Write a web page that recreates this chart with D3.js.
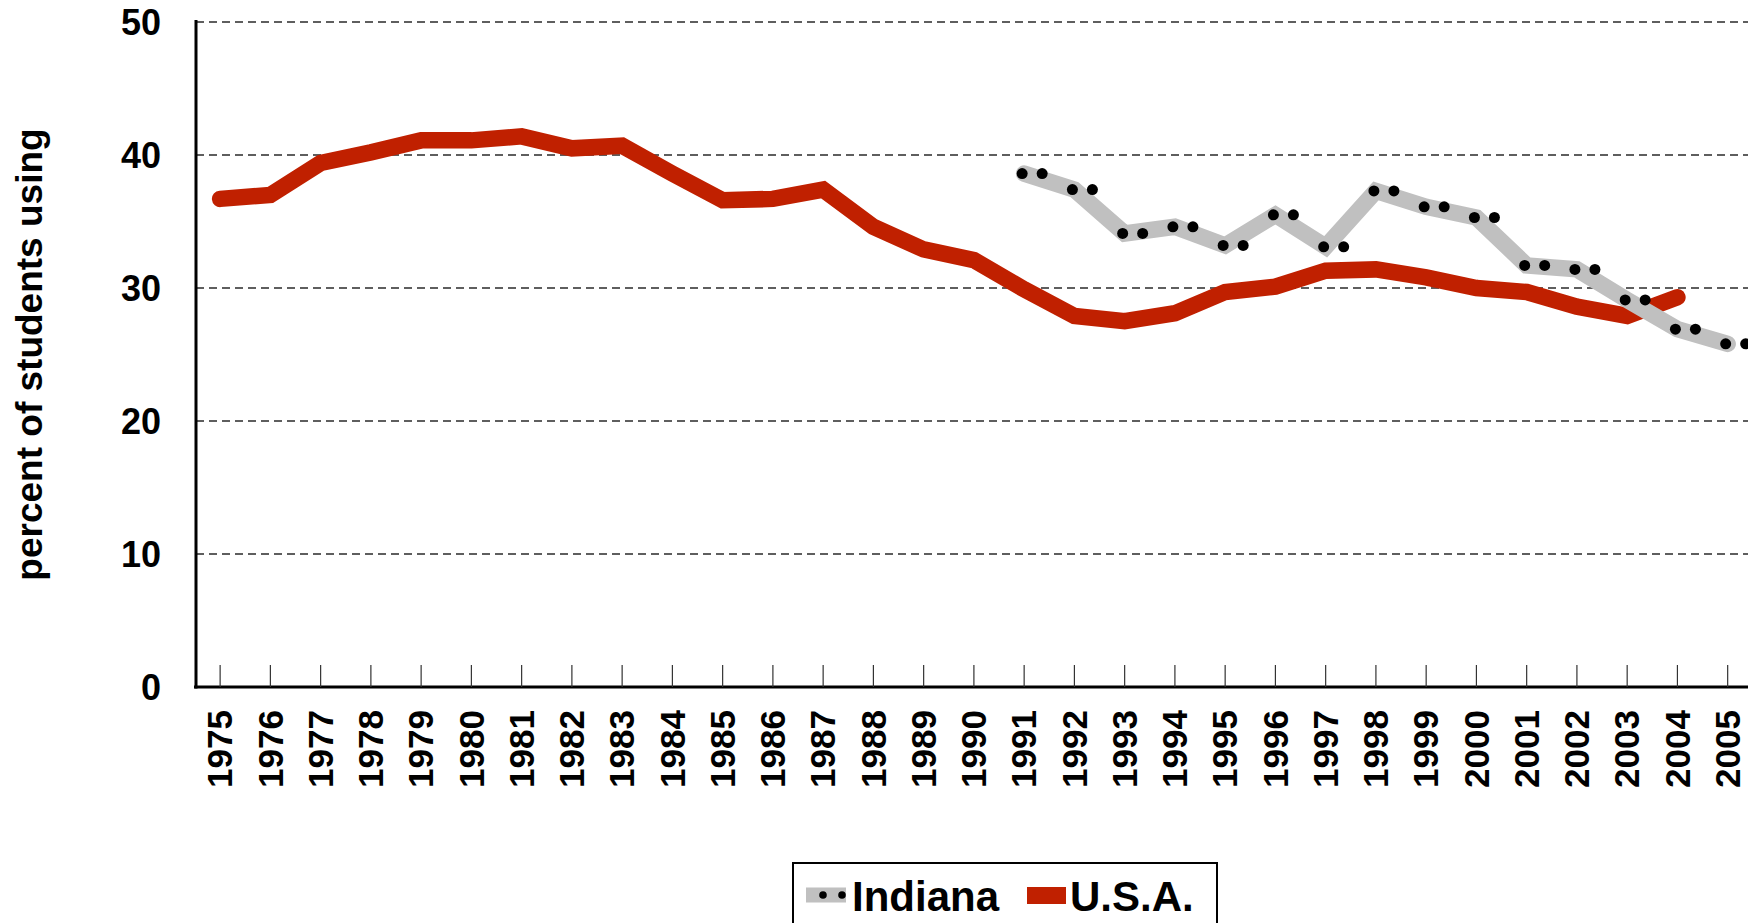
<!DOCTYPE html>
<html>
<head>
<meta charset="utf-8">
<script src="https://cdn.jsdelivr.net/npm/d3@7"></script>
<style>
  html, body { margin: 0; padding: 0; background: #fff; }
  svg { display: block; font-family: "Liberation Sans", Arial, Helvetica, sans-serif; }
</style>
</head>
<body>
<svg id="chart" width="1748" height="923"></svg>
<script>
// ---- data ----
const years = [1975,1976,1977,1978,1979,1980,1981,1982,1983,1984,1985,1986,1987,1988,1989,
               1990,1991,1992,1993,1994,1995,1996,1997,1998,1999,2000,2001,2002,2003,2004,2005];
const usaYears = [1975,1976,1977,1978,1979,1980,1981,1982,1983,1984,1985,1986,1987,1988,1989,
                  1990,1991,1992,1993,1994,1995,1996,1997,1998,1999,2000,2001,2002,2003,2004];
const usaValues = [36.7,37.0,39.4,40.2,41.1,41.1,41.4,40.5,40.7,38.6,36.6,36.7,37.4,34.6,32.9,
                   32.1,29.9,27.9,27.5,28.1,29.7,30.1,31.3,31.4,30.8,30.0,29.7,28.6,27.9,29.3];
const indianaYears = [1991,1992,1993,1994,1995,1996,1997,1998,1999,2000,2001,2002,2003,2004,2005];
const indianaValues = [38.6,37.4,34.1,34.6,33.2,35.5,33.1,37.3,36.1,35.3,31.7,31.4,29.1,26.9,25.8];
const yTicks = [0,10,20,30,40,50];
const yTitle = "percent of students using";
const seriesNames = ["Indiana", "U.S.A."];

// ---- styles ----
const RED = "#c02000";
const GRAY = "#c0c0c0";

const svg = d3.select("#chart");
const W = 1748;

const x = d3.scaleBand().domain(years).range([195, 1752.8]);
const cx = d => x(d) + x.bandwidth() / 2;
const y = d3.scaleLinear().domain([0, 50]).range([687, 22]);

// gridlines
svg.append("g").selectAll("line")
  .data(yTicks.filter(v => v > 0))
  .join("line")
  .attr("x1", 196).attr("x2", W)
  .attr("y1", d => y(d)).attr("y2", d => y(d))
  .attr("stroke", "#2a2a2a").attr("stroke-width", 1.6)
  .attr("stroke-dasharray", "8,5");

const usa = usaYears.map((yr, i) => ({ yr, v: usaValues[i] }));
const ind = indianaYears.map((yr, i) => ({ yr, v: indianaValues[i] }));
const lineGen = d3.line().x(d => cx(d.yr)).y(d => y(d.v));

// USA line
svg.append("path").datum(usa)
  .attr("d", lineGen)
  .attr("fill", "none").attr("stroke", RED).attr("stroke-width", 16.5)
  .attr("stroke-linecap", "round").attr("stroke-linejoin", "miter");

// Indiana line
svg.append("path").datum(ind)
  .attr("d", lineGen)
  .attr("fill", "none").attr("stroke", GRAY).attr("stroke-width", 16.5)
  .attr("stroke-linecap", "round").attr("stroke-linejoin", "miter");

// Indiana markers: two dots per point
const dotOffsets = [-2, 18];
svg.append("g").selectAll("circle")
  .data(ind.flatMap(d => dotOffsets.map(o => ({ ...d, o }))))
  .join("circle")
  .attr("cx", d => cx(d.yr) + d.o)
  .attr("cy", d => y(d.v))
  .attr("r", 5.5)
  .attr("fill", "#000");

// x axis
const xAxis = svg.append("g")
  .attr("transform", `translate(0,${y(0)})`)
  .call(d3.axisBottom(x).tickSizeInner(-22).tickSizeOuter(0));
xAxis.select(".domain").attr("stroke", "#000").attr("stroke-width", 3)
  .attr("d", `M194,0H${W}`);
xAxis.selectAll(".tick line").attr("stroke", "#333").attr("stroke-width", 1.2);
xAxis.selectAll(".tick text")
  .attr("x", 0).attr("y", 0)
  .attr("transform", "translate(0,23) rotate(-90)")
  .attr("dy", "0.35em")
  .attr("text-anchor", "end")
  .attr("fill", "#000")
  .style("font-size", "35px").style("font-weight", "bold")
  .style("font-family", "'Liberation Sans', Arial, sans-serif");

// y axis
const yAxis = svg.append("g")
  .attr("transform", "translate(196,0)")
  .call(d3.axisLeft(y).tickValues(yTicks).tickSize(0).tickPadding(35));
yAxis.select(".domain").attr("stroke", "#000").attr("stroke-width", 3)
  .attr("d", `M0,${y(50) - 2}V${y(0) + 1.5}`);
yAxis.selectAll(".tick text")
  .attr("fill", "#000")
  .attr("dy", "0.36em")
  .style("font-size", "36px").style("font-weight", "bold")
  .style("font-family", "'Liberation Sans', Arial, sans-serif");

// y title
svg.append("text")
  .attr("transform", `translate(42,${(y(0) + y(50)) / 2}) rotate(-90)`)
  .attr("text-anchor", "middle")
  .style("font-size", "37px").style("font-weight", "bold")
  .text(yTitle);

// legend
const lg = svg.append("g");
lg.append("rect").attr("x", 793).attr("y", 863).attr("width", 424).attr("height", 80)
  .attr("fill", "#fff").attr("stroke", "#000").attr("stroke-width", 2);
lg.append("line").attr("x1", 806).attr("x2", 846).attr("y1", 895).attr("y2", 895)
  .attr("stroke", GRAY).attr("stroke-width", 15);
lg.selectAll("circle.ld").data([823, 842]).join("circle").attr("class", "ld")
  .attr("cx", d => d).attr("cy", 895).attr("r", 3.8).attr("fill", "#000");
lg.append("text").attr("x", 852).attr("y", 911)
  .style("font-size", "42px").style("font-weight", "bold").text(seriesNames[0]);
lg.append("rect").attr("x", 1027).attr("y", 887).attr("width", 39).attr("height", 17)
  .attr("fill", RED);
lg.append("text").attr("x", 1070).attr("y", 911)
  .style("font-size", "42px").style("font-weight", "bold").text(seriesNames[1]);
</script>
</body>
</html>
